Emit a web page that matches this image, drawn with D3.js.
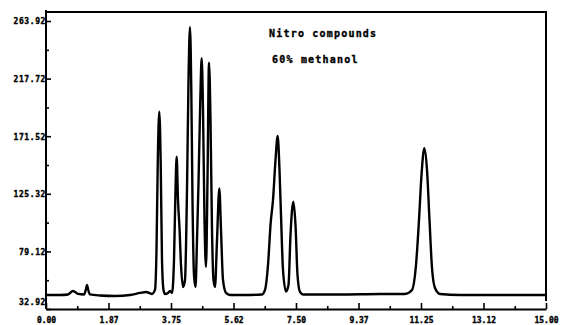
<!DOCTYPE html>
<html>
<head>
<meta charset="utf-8">
<script src="https://cdn.jsdelivr.net/npm/d3@7"></script>
<style>
  html, body { margin: 0; padding: 0; background: #fff; }
  svg { display: block; }
  .lbl { font-family: "DejaVu Sans Mono", monospace; font-weight: bold; fill: #000; stroke: #000; stroke-width: 0.35; }
</style>
</head>
<body>
<svg id="chart" width="567" height="325"></svg>
<script>
// Chromatogram trace: retention time (min) and detector response
const times = [
  0.00, 0.42, 0.66, 0.81, 0.96, 1.14, 1.20, 1.23, 1.26, 1.32, 1.62, 2.07, 2.52, 2.82, 3.00, 3.18, 3.27,
  3.315, 3.354, 3.40, 3.444, 3.48, 3.525, 3.57, 3.66, 3.72, 3.78,
  3.84, 3.885, 3.92, 3.96, 4.005, 4.05, 4.11,
  4.17, 4.23, 4.275, 4.32, 4.359, 4.395, 4.44, 4.485,
  4.53, 4.575, 4.629, 4.67, 4.71, 4.755, 4.80,
  4.845, 4.89, 4.935, 4.98, 5.025, 5.07,
  5.13, 5.20, 5.25, 5.31, 5.40, 5.52, 6.12, 6.48,
  6.57, 6.66, 6.74, 6.81, 6.885, 6.95, 7.005, 7.05, 7.11, 7.20,
  7.275, 7.335, 7.42, 7.485, 7.545, 7.62, 7.71, 8.82, 10.02, 10.77,
  10.98, 11.10, 11.19, 11.265, 11.35, 11.43, 11.505, 11.58, 11.67, 11.82, 12.42, 15.00
];
const signal = [
  44.2, 44.2, 44.6, 47.4, 45.0, 44.6, 49.0, 52.2, 49.0, 44.6, 43.8, 43.4, 44.2, 45.8, 46.6, 45.0, 48.2,
  80.2, 152.4, 191.2, 144.4, 72.2, 48.2, 45.0, 45.8, 47.4, 45.8,
  72.2, 128.4, 155.1, 120.3, 97.9, 68.2, 50.6,
  56.2, 128.4, 216.6, 258.9, 208.6, 120.3, 60.2, 50.6,
  88.3, 134.0, 200.6, 234.0, 192.5, 104.3, 66.6,
  136.4, 230.5, 184.5, 96.3, 56.2, 50.6,
  88.3, 129.7, 96.3, 56.2, 45.8, 44.2, 44.2, 44.6,
  48.2, 68.2, 101.9, 120.3, 152.4, 171.7, 144.4, 108.3, 64.2, 47.0,
  52.2, 92.3, 119.0, 100.3, 60.2, 46.6, 44.6, 44.6, 45.0, 45.0,
  48.2, 68.2, 104.3, 140.4, 161.8, 144.4, 104.3, 65.8, 49.8, 45.0, 44.2, 44.2
];

// Axis ticks and their printed labels
const xTicks = [0, 1.875, 3.75, 5.625, 7.5, 9.375, 11.25, 13.125, 15];
const xTickLabels = ["0.00", "1.87", "3.75", "5.62", "7.50", "9.37", "11.25", "13.12", "15.00"];
const yTicks = [32.92, 79.12, 125.32, 171.52, 217.72, 263.92];

const titleLines = ["Nitro compounds", "60% methanol"];

const svg = d3.select("#chart");
const plotL = 46, plotR = 546, plotT = 12, plotB = 309;

const x = d3.scaleLinear().domain([0, 15]).range([plotL, plotR]);
const y = d3.scaleLinear().domain([32.92, 263.92]).range([plotB, 21]);

const ink = "#000";

// frame: top and right edges
svg.append("line").attr("x1", plotL).attr("x2", plotR + 1).attr("y1", plotT).attr("y2", plotT)
  .attr("stroke", ink).attr("stroke-width", 2);
svg.append("line").attr("x1", plotR).attr("x2", plotR).attr("y1", plotT).attr("y2", 301)
  .attr("stroke", ink).attr("stroke-width", 2);

// x axis, ticks pointing inward
const xMinor = d3.pairs(xTicks).map(([a, b]) => (a + b) / 2);
const gx = svg.append("g").attr("transform", `translate(0,${plotB})`)
  .call(d3.axisBottom(x).tickValues(xTicks).tickSize(-6).tickSizeOuter(0)
    .tickFormat((d, i) => xTickLabels[i]));
gx.append("g").call(d3.axisBottom(x).tickValues(xMinor).tickSize(-3).tickFormat(""))
  .select(".domain").remove();
gx.selectAll("path.domain").attr("stroke", ink).attr("stroke-width", 2);
gx.selectAll(".tick line").attr("stroke", ink).attr("stroke-width", 1.6);
gx.selectAll(".tick text")
  .attr("class", "lbl").attr("font-size", 8).attr("y", 14).attr("dy", null)
  .attr("fill", ink);

// y axis, ticks pointing inward
const yMinor = d3.pairs(yTicks).map(([a, b]) => (a + b) / 2);
const gy = svg.append("g").attr("transform", `translate(${plotL},0)`)
  .call(d3.axisLeft(y).tickValues(yTicks).tickSize(-5).tickSizeOuter(0).tickPadding(0)
    .tickFormat(d => d.toFixed(2)));
gy.append("g").call(d3.axisLeft(y).tickValues(yMinor).tickSize(-3).tickFormat(""))
  .select(".domain").remove();
gy.select("path.domain").attr("d", `M0,${plotT - 2}V${plotB}`)
  .attr("stroke", ink).attr("stroke-width", 2);
gy.selectAll(".tick line").attr("stroke", ink).attr("stroke-width", 1.6);
gy.selectAll(".tick text")
  .attr("class", "lbl").attr("font-size", 8).attr("letter-spacing", 0.6)
  .attr("dy", d => (d === yTicks[0] ? "-0.6em" : "0.36em"))
  .attr("fill", ink);

// detector trace
const pts = times.map((t, i) => [t, signal[i]]);
svg.append("path")
  .datum(pts)
  .attr("fill", "none")
  .attr("stroke", ink)
  .attr("stroke-width", 2.4)
  .attr("stroke-linejoin", "round")
  .attr("d", d3.line().x(d => x(d[0])).y(d => y(d[1])).curve(d3.curveMonotoneX));

// annotation
svg.append("text").attr("class", "lbl").attr("x", 269).attr("y", 37)
  .attr("font-size", 10).attr("letter-spacing", 1.2).text(titleLines[0]);
svg.append("text").attr("class", "lbl").attr("x", 272).attr("y", 63)
  .attr("font-size", 10).attr("letter-spacing", 1.2).text(titleLines[1]);
</script>
</body>
</html>
